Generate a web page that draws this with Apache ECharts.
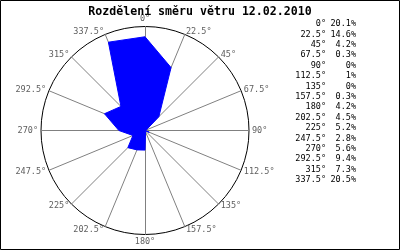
<!DOCTYPE html>
<html><head><meta charset="utf-8">
<script src="https://cdn.jsdelivr.net/npm/echarts@6/dist/echarts.min.js"></script>
<style>html,body{margin:0;padding:0;background:#fff}#c{width:400px;height:250px}</style>
</head><body><div id="c"></div>
<script>
var titleText = 'Rozdělení směru větru 12.02.2010';
var directions = ['0°','22.5°','45°','67.5°','90°','112.5°','135°','157.5°','180°','202.5°','225°','247.5°','270°','292.5°','315°','337.5°'];
var percents = [20.1, 14.6, 4.2, 0.3, 0, 1, 0, 0.3, 4.2, 4.5, 5.2, 2.8, 5.6, 9.4, 7.3, 20.5];
var scaleMax = 22.3;

// radar goes counter-clockwise, so reorder to get compass (clockwise) layout
var order = [0];
for (var i = directions.length - 1; i > 0; i--) order.push(i);

var chart = echarts.init(document.getElementById('c'), null, {renderer: 'canvas'});
var mono = 'DejaVu Sans Mono';
chart.setOption({
  animation: false,
  title: {
    text: titleText, left: 'center', top: 1,
    textStyle: {fontFamily: mono, fontSize: 11.6, fontWeight: 'bold', color: '#000'}
  },
  radar: {
    center: [145, 130.5], radius: 104, startAngle: 90, shape: 'circle', splitNumber: 1,
    indicator: order.map(function (i) { return {name: directions[i], max: scaleMax}; }),
    axisName: {color: '#606060', fontFamily: mono, fontSize: 8.5},
    nameGap: 3,
    splitLine: {lineStyle: {color: '#000', width: 1}},
    splitArea: {show: false},
    axisLine: {lineStyle: {color: '#808080', width: 1}},
    axisTick: {show: false}, axisLabel: {show: false}
  },
  series: [{
    type: 'radar', symbol: 'none',
    lineStyle: {color: '#0000ff', width: 1},
    areaStyle: {color: '#0000ff', opacity: 1},
    data: [{value: order.map(function (i) { return percents[i]; })}]
  }],
  graphic: [
    {type: 'rect', shape: {x: 0.5, y: 0.5, width: 399, height: 249}, style: {fill: null, stroke: '#000', lineWidth: 1}, silent: true},
    {type: 'text', x: 326, y: 18.8, style: {text: directions.join('\n'), align: 'right', lineHeight: 10.4, font: '8.5px ' + mono, fill: '#000'}},
    {type: 'text', x: 356, y: 18.8, style: {text: percents.map(function (p) { return p + '%'; }).join('\n'), align: 'right', lineHeight: 10.4, font: '8.5px ' + mono, fill: '#000'}}
  ]
});
</script></body></html>
